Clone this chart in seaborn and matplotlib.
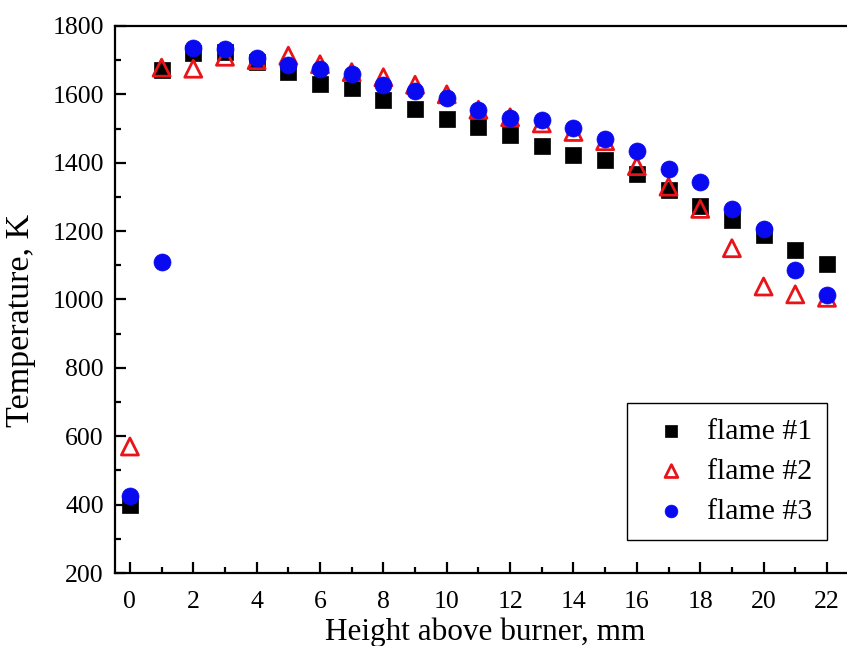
import matplotlib
matplotlib.use("Agg")
import matplotlib.pyplot as plt
from matplotlib.ticker import MultipleLocator
import seaborn as sns
import pandas as pd

height_mm = list(range(0, 23))
flame1 = [398, 1670, 1720, 1725, 1695, 1665, 1630, 1620, 1583, 1558, 1527, 1505,
          1480, 1450, 1423, 1408, 1368, 1320, 1272, 1232, 1190, 1145, 1103]
flame2 = [570, 1678, 1675, 1710, 1700, 1713, 1688, 1665, 1650, 1628, 1600, 1555,
          1533, 1515, 1490, 1463, 1390, 1330, 1265, 1150, 1038, 1015, 1005]
flame3 = [425, 1110, 1735, 1733, 1705, 1685, 1675, 1660, 1628, 1610, 1590, 1555,
          1532, 1525, 1502, 1470, 1433, 1383, 1345, 1265, 1205, 1085, 1012]
labels = ["flame #1", "flame #2", "flame #3"]

sns.set_theme(style="white")
plt.rcParams["font.family"] = ["Liberation Serif", "DejaVu Serif"]
plt.rcParams["text.color"] = "black"
plt.rcParams["axes.labelcolor"] = "black"
plt.rcParams["xtick.color"] = "black"
plt.rcParams["ytick.color"] = "black"

fig = plt.figure(figsize=(8.47, 6.46), dpi=100)
ax = fig.add_axes([0.1358, 0.113, 0.8742, 0.8468])

df1 = pd.DataFrame({"x": height_mm, "y": flame1})
df2 = pd.DataFrame({"x": height_mm, "y": flame2})
df3 = pd.DataFrame({"x": height_mm, "y": flame3})

sns.scatterplot(data=df1, x="x", y="y", ax=ax, marker="s", s=120, color="black",
                edgecolor="black", linewidth=0.5, label=labels[0], zorder=3)
sns.scatterplot(data=df2, x="x", y="y", ax=ax, marker="^", s=150, facecolors="none",
                edgecolor="#e8141a", linewidth=2.0, label=labels[1], zorder=4)
sns.scatterplot(data=df3, x="x", y="y", ax=ax, marker="o", s=150, color="#0a0af0",
                edgecolor="#0a0af0", linewidth=0.5, label=labels[2], zorder=5)

ax.set_xlim(-0.47, 22.9)
ax.set_ylim(200, 1800)
ax.xaxis.set_major_locator(MultipleLocator(2))
ax.xaxis.set_minor_locator(MultipleLocator(1))
ax.yaxis.set_major_locator(MultipleLocator(200))
ax.yaxis.set_minor_locator(MultipleLocator(100))

for side in ["left", "bottom", "top"]:
    ax.spines[side].set_visible(True)
    ax.spines[side].set_color("black")
    ax.spines[side].set_linewidth(1.6)
ax.spines["right"].set_visible(False)

ax.tick_params(which="major", direction="in", length=8, width=1.6, colors="black",
               labelsize=18.5, bottom=True, left=True, top=False, right=False)
ax.tick_params(which="minor", direction="in", length=4.5, width=1.6, colors="black",
               bottom=True, left=True, top=False, right=False)
ax.tick_params(axis="x", which="major", pad=13)
ax.tick_params(axis="y", which="major", pad=8)

ax.set_xlabel("Height above burner, mm", fontsize=22.5, color="black", labelpad=3)
ax.set_ylabel("Temperature, K", fontsize=24.5, color="black")
ax.yaxis.set_label_coords(-0.1068, 0.4625)

leg = ax.legend(loc="lower right", bbox_to_anchor=(0.962, 0.06), fontsize=21.5,
                frameon=True, fancybox=False, edgecolor="black", framealpha=1,
                handletextpad=0.2, borderpad=0.5, labelspacing=0.45, markerscale=0.75,
                borderaxespad=0)
leg.get_frame().set_linewidth(1.0)
for t in leg.get_texts():
    t.set_color("black")

fig.savefig("out.png", dpi=100)
